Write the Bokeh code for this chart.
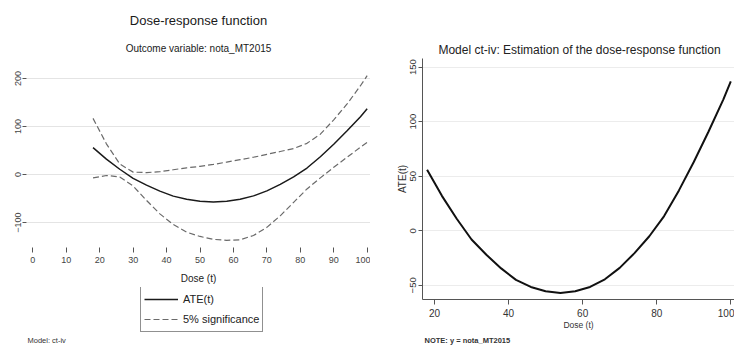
from bokeh.plotting import figure
from bokeh.models import Range1d, FixedTicker, Legend, LegendItem, ColumnDataSource, Label
from bokeh.layouts import row, column
from bokeh.embed import file_html
from bokeh.resources import INLINE

# ---- data ----
dose = [18, 22, 26, 30, 34, 38, 42, 46, 50, 54, 58, 62, 66, 70, 74, 78, 82, 86, 90, 94, 98, 100]
ate = [56, 32, 11, -8, -22, -34.5, -45, -51.5, -55.5, -57, -55.5, -51.5, -44.5, -34, -20.5, -5, 13.5, 37, 63, 91, 120.5, 137]
upper_5pct = [117, 64, 22, 5, 4, 6, 10, 14, 17, 21, 26, 31, 36, 42, 48, 54, 65, 84, 114, 147, 185, 206]
lower_5pct = [-7, -2, -5, -24, -54, -82, -104, -120, -129, -135, -137, -136, -127, -110, -86, -58, -30, -7, 15, 36, 57, 67]

left_xticks = [0, 10, 20, 30, 40, 50, 60, 70, 80, 90, 100]
left_yticks = [-100, 0, 100, 200]
right_xticks = [20, 40, 60, 80, 100]
right_yticks = [-50, 0, 50, 100, 150]

FONT = "Liberation Sans"
NAN = float("nan")
src = ColumnDataSource(dict(dose=dose, ate=ate, up=upper_5pct, lo=lower_5pct))
ATE_STYLE = dict(line_color="#1a1a1a", line_width=1.5)
SIG_STYLE = dict(line_color="#6a6a6a", line_width=1.2, line_dash="6 3")


def text_strip(width, height):
    f = figure(width=width, height=height, output_backend="svg", toolbar_location=None,
               x_range=Range1d(0, width), y_range=Range1d(0, height),
               x_axis_location=None, y_axis_location=None, min_border=0)
    f.outline_line_color = None
    f.grid.visible = False
    f.title.visible = False
    return f


def add_text(f, x, y, text, size, align="center", style="normal", color="#1a1a1a"):
    f.add_layout(Label(x=x, y=y, x_units="screen", y_units="screen", text=text,
                       text_align=align, text_baseline="middle", text_font=FONT,
                       text_font_size=size, text_font_style=style, text_color=color))


# ---------------- left panel (frames in a column are aligned at x = 26) ----------------
top1 = text_strip(370, 62)
add_text(top1, 172, 42, "Dose-response function", "13px")
add_text(top1, 172, 14, "Outcome variable: nota_MT2015", "10px")

p1 = figure(width=370, height=225, output_backend="svg", toolbar_location=None,
            x_range=Range1d(-1.9, 101), y_range=Range1d(-152, 216.7),
            min_border_left=26, min_border_right=0, min_border_top=8, min_border_bottom=40)
p1.title.visible = False
p1.outline_line_color = None
p1.xgrid.visible = False
p1.ygrid.grid_line_color = "#e4e4e4"
p1.xaxis.ticker = FixedTicker(ticks=left_xticks)
p1.yaxis.ticker = FixedTicker(ticks=left_yticks)
for ax in (p1.xaxis[0], p1.yaxis[0]):
    ax.axis_line_color = None
    ax.major_tick_line_color = "#555555"
    ax.minor_tick_line_color = None
    ax.major_tick_in = 0
    ax.major_label_text_font = FONT
    ax.major_label_text_font_size = "9px"
    ax.major_label_text_color = "#444444"
p1.xaxis.major_tick_out = 5
p1.xaxis.major_label_standoff = 4
p1.yaxis.major_tick_out = 4
p1.yaxis.major_label_standoff = 1
p1.yaxis.major_label_orientation = "vertical"
p1.xaxis.axis_label = "Dose (t)"
p1.xaxis.axis_label_text_font = FONT
p1.xaxis.axis_label_text_font_size = "10px"
p1.xaxis.axis_label_text_font_style = "normal"
p1.xaxis.axis_label_text_color = "#222222"
p1.xaxis.axis_label_standoff = 7

p1.line("dose", "ate", source=src, **ATE_STYLE)
p1.line("dose", "up", source=src, **SIG_STYLE)
p1.line("dose", "lo", source=src, **SIG_STYLE)

bot1 = text_strip(370, 58)
k_ate = bot1.line(x=[NAN], y=[NAN], **ATE_STYLE)
k_sig = bot1.line(x=[NAN], y=[NAN], **SIG_STYLE)
legend = Legend(items=[LegendItem(label="ATE(t)", renderers=[k_ate]),
                       LegendItem(label="5% significance", renderers=[k_sig])],
                location=(114, 13), orientation="vertical",
                padding=3, spacing=2, margin=0, glyph_width=34, glyph_height=18,
                label_standoff=5, label_text_font=FONT, label_text_font_size="11px",
                label_text_color="#222222", border_line_color="#222222",
                border_line_width=1, background_fill_color="white", background_fill_alpha=1)
bot1.add_layout(legend, "center")
add_text(bot1, 1, 5, "Model: ct-iv", "7.5px", align="left", color="#333333")

# ---------------- right panel (frames in a column are aligned at x = 52) ----------------
top2 = text_strip(364, 57)
add_text(top2, 157, 8, "Model ct-iv: Estimation of the dose-response function", "12px", color="#222222")

p2 = figure(width=364, height=275, output_backend="svg", toolbar_location=None,
            x_range=Range1d(16.76, 101), y_range=Range1d(-63, 157.9),
            min_border_left=52, min_border_right=0, min_border_top=1, min_border_bottom=31)
p2.title.visible = False
p2.outline_line_color = None
p2.xgrid.visible = False
p2.ygrid.grid_line_color = "#ececec"
p2.xaxis.ticker = FixedTicker(ticks=right_xticks)
p2.yaxis.ticker = FixedTicker(ticks=right_yticks)
for ax in (p2.xaxis[0], p2.yaxis[0]):
    ax.axis_line_color = "#555555"
    ax.axis_line_width = 1
    ax.major_tick_line_color = "#555555"
    ax.minor_tick_line_color = None
    ax.major_tick_in = 0
    ax.major_label_text_font = FONT
    ax.major_label_text_color = "#333333"
    ax.axis_label_text_font = FONT
    ax.axis_label_text_font_style = "normal"
    ax.axis_label_text_color = "#333333"
p2.xaxis.major_tick_out = 5
p2.xaxis.major_label_standoff = 4
p2.xaxis.major_label_text_font_size = "10px"
p2.xaxis.axis_label = "Dose (t)"
p2.xaxis.axis_label_text_font_size = "8.5px"
p2.xaxis.axis_label_standoff = 0
p2.yaxis.major_tick_out = 4
p2.yaxis.major_label_standoff = 2
p2.yaxis.major_label_text_font_size = "9.5px"
p2.yaxis.major_label_orientation = "vertical"
p2.yaxis.axis_label = "ATE(t)"
p2.yaxis.axis_label_text_font_size = "10px"
p2.yaxis.axis_label_standoff = 0

p2.line("dose", "ate", source=src, line_color="#111111", line_width=2)

bot2 = text_strip(364, 13)
add_text(bot2, 2, 5, "NOTE: y = nota_MT2015", "7.5px", align="left", style="bold", color="#333333")

layout = row(column(top1, p1, bot1), column(top2, p2, bot2))
open("out.html", "w").write(file_html(layout, INLINE))
